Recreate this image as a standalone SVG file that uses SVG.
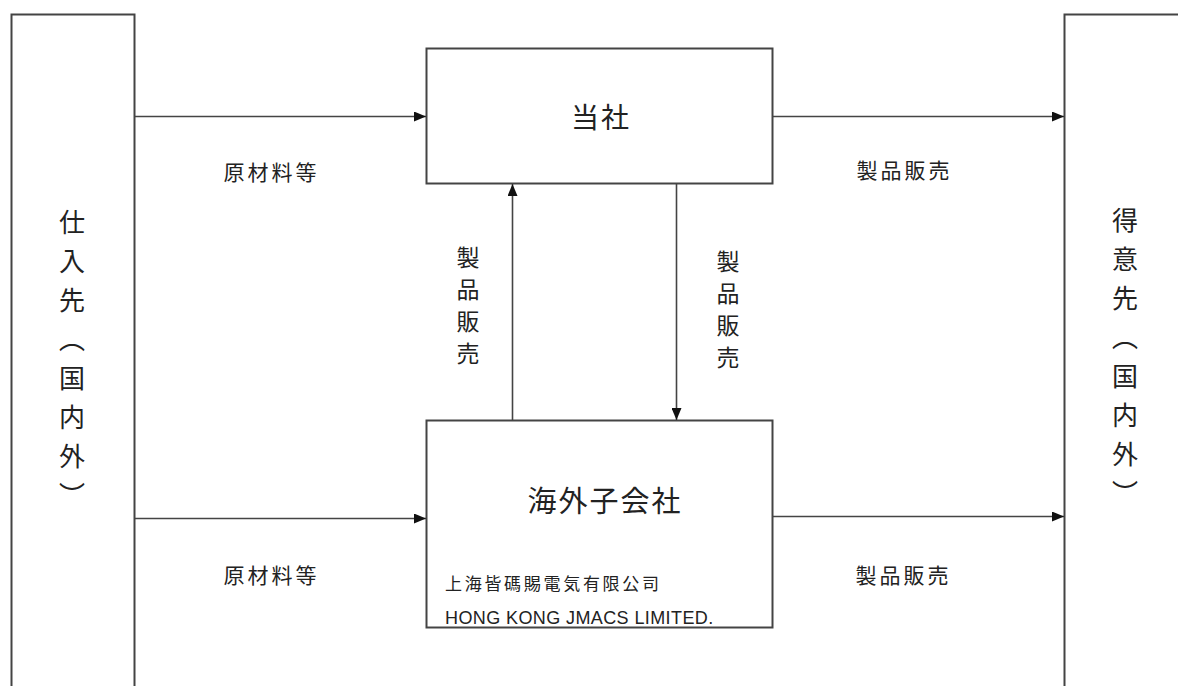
<svg xmlns="http://www.w3.org/2000/svg" width="1178" height="686" viewBox="0 0 1178 686">
<style>
.box{fill:#fff;stroke:#444;stroke-width:2}
.ln{fill:none;stroke:#444;stroke-width:1.6}
.jp{font-family:"Noto Sans CJK JP","Noto Sans",sans-serif;fill:#222}
.lbl{font-size:21px;letter-spacing:3px;text-anchor:middle}
.vt{writing-mode:vertical-rl;font-size:26px;letter-spacing:13px}
.vs{writing-mode:vertical-rl;font-size:23px;letter-spacing:9px}
</style>
<defs>
<marker id="ah" markerUnits="userSpaceOnUse" markerWidth="12" markerHeight="10" refX="12" refY="5" orient="auto">
<path d="M0,0 L12,5 L0,10 Z" fill="#111"/>
</marker>
</defs>
<rect width="1178" height="686" fill="#fff"/>
<g id="supplier">
<rect class="box" x="11.5" y="14.5" width="123" height="690"/>
<text class="jp vt" x="72" y="209">仕入先（国内外）</text>
</g>
<g id="customer">
<rect class="box" x="1064.5" y="14.5" width="130" height="690"/>
<text class="jp vt" x="1125" y="207">得意先（国内外）</text>
</g>
<g id="company">
<rect class="box" x="426.5" y="48.5" width="346" height="135"/>
<text class="jp" x="601" y="128" font-size="28" letter-spacing="2" text-anchor="middle">当社</text>
</g>
<g id="subsidiary">
<rect class="box" x="426.5" y="420.5" width="346" height="207"/>
<text class="jp" x="605" y="512" font-size="29" letter-spacing="2" text-anchor="middle">海外子会社</text>
<text class="jp" x="445" y="590" font-size="17" letter-spacing="2.7">上海皆碼賜電気有限公司</text>
<text x="445" y="624" font-family="'Liberation Sans',Arial,sans-serif" font-size="18" letter-spacing="0.4" fill="#222">HONG KONG JMACS LIMITED.</text>
</g>
<g id="connectors">
<line class="ln" x1="134.5" y1="116.5" x2="426" y2="116.5" marker-end="url(#ah)"/>
<line class="ln" x1="772.5" y1="116.5" x2="1064" y2="116.5" marker-end="url(#ah)"/>
<line class="ln" x1="134.5" y1="518.5" x2="426" y2="518.5" marker-end="url(#ah)"/>
<line class="ln" x1="772.5" y1="516.5" x2="1064" y2="516.5" marker-end="url(#ah)"/>
<line class="ln" x1="512.5" y1="420" x2="512.5" y2="184" marker-end="url(#ah)"/>
<line class="ln" x1="676.5" y1="184" x2="676.5" y2="420" marker-end="url(#ah)"/>
<text class="jp lbl" x="271.5" y="180">原材料等</text>
<text class="jp lbl" x="904.5" y="178">製品販売</text>
<text class="jp lbl" x="271.5" y="583">原材料等</text>
<text class="jp lbl" x="903.5" y="583">製品販売</text>
<text class="jp vs" x="468" y="246">製品販売</text>
<text class="jp vs" x="728" y="250">製品販売</text>
</g>
</svg>
